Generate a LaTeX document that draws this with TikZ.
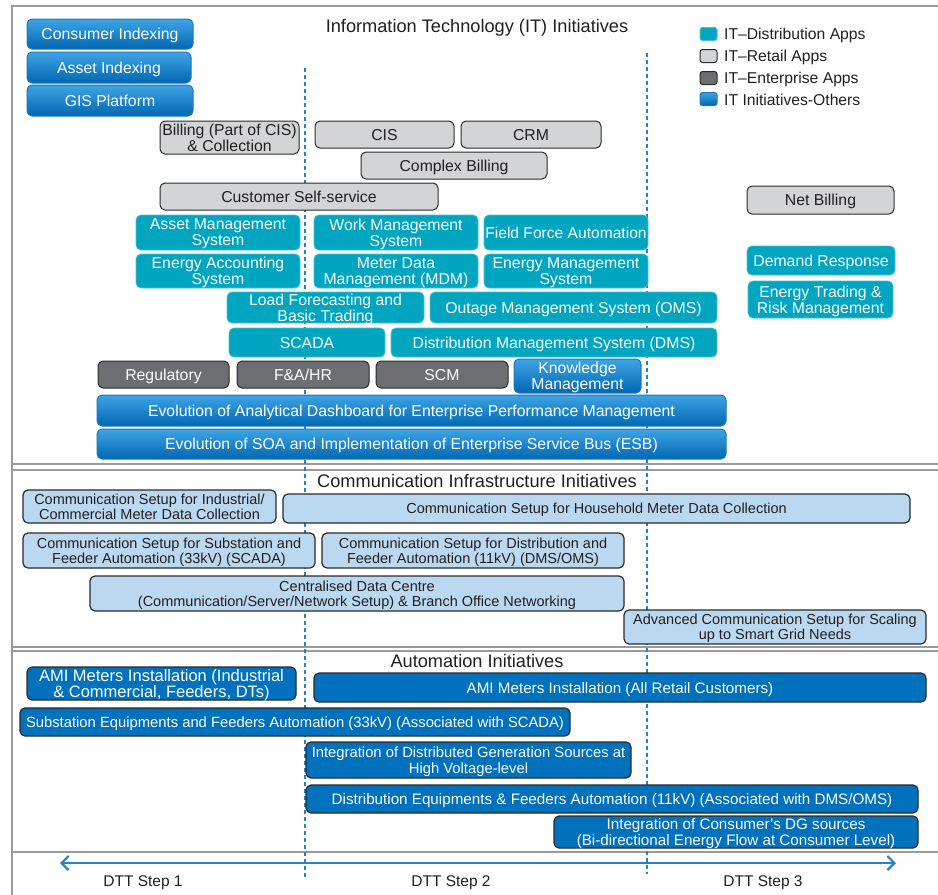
\documentclass[tikz,border=0pt]{standalone}
\usepackage{fontspec}
\setmainfont{Liberation Sans}
\usetikzlibrary{arrows.meta}

\definecolor{tealc}{HTML}{00A6C0}
\definecolor{teallight}{HTML}{45C0D4}
\definecolor{retailgray}{HTML}{D3D4D6}
\definecolor{entgray}{HTML}{6D6E71}
\definecolor{edgedark}{HTML}{2A2A2A}
\definecolor{textdark}{HTML}{231F20}
\definecolor{bluetop}{HTML}{3FA4E4}
\definecolor{bluebot}{HTML}{0068B3}
\definecolor{blueedge}{HTML}{1C78BE}
\definecolor{commblue}{HTML}{BAD8F0}
\definecolor{autoblue}{HTML}{0071BC}
\definecolor{framegray}{HTML}{9A9A9A}
\definecolor{stepblue}{HTML}{2A80C4}

% box from its corners: style, name, x1, y1, x2, y2, text
\newcommand\gbox[7]{%
  \node[#1, minimum width={(#5-#3)*1pt}, minimum height={(#6-#4)*1pt}]
    (#2) at ({(#3+#5)/2},{(#4+#6)/2}) {#7};}

\begin{document}
\begin{tikzpicture}[x=1pt,y=-1pt,
  box/.style={rounded corners=5pt, inner sep=1pt, inner xsep=0pt, align=center, text depth=0pt,
    font=\fontsize{15.8}{16}\selectfont, line width=1pt},
  retail/.style={box, fill=retailgray, draw=edgedark, text=textdark},
  dist/.style={box, fill=tealc, draw=teallight, line width=0.8pt, text=white},
  ent/.style={box, fill=entgray, draw=edgedark, text=white},
  other/.style={box, top color=bluetop, bottom color=bluebot, draw=blueedge, text=white},
  comm/.style={box, fill=commblue, draw=edgedark, line width=1.2pt, text=textdark,
    font=\fontsize{14.5}{15}\selectfont},
  auto/.style={box, fill=autoblue, draw=edgedark, line width=1.2pt, text=white,
    font=\fontsize{15.2}{16}\selectfont},
  title/.style={font=\fontsize{18.2}{20}\selectfont, text=textdark, inner sep=0pt},
  legtext/.style={anchor=west, font=\fontsize{15.7}{16}\selectfont, text=textdark, inner sep=0pt},
  legsq/.style={rounded corners=2.5pt, minimum width=17pt, minimum height=13pt, inner sep=0pt, line width=1pt},
  steplabel/.style={font=\fontsize{15.5}{16}\selectfont, text=textdark, inner sep=0pt},
  frameline/.style={draw=framegray, line width=1.6pt},
  stepdiv/.style={draw=stepblue, line width=1.2pt, dash pattern=on 4pt off 3pt},
  timeline/.style={draw=stepblue, line width=2.2pt,
    {Straight Barb[length=7pt,width=14pt]}-{Straight Barb[length=7pt,width=14pt]}}
]
\useasboundingbox (0,0) rectangle (938,895);

% section frames
\draw[frameline] (938,6) -- (12,6) -- (12,895);
\draw[frameline] (12,464) -- (938,464);
\draw[frameline] (12,470) -- (938,470);
\draw[frameline] (12,647) -- (938,647);
\draw[frameline] (12,651) -- (938,651);
\draw[frameline] (12,852) -- (938,852);

% step dividers
\coordinate (d1t) at (305,68);  \coordinate (d1b) at (305,878);
\coordinate (d2t) at (647,53);  \coordinate (d2b) at (647,874);
\draw[stepdiv] (d1t) -- (d1b);
\draw[stepdiv] (d2t) -- (d2b);

% ---------------- IT initiatives ----------------
\node[title] (ittitle) at (477,28) {Information Technology (IT) Initiatives};

% legend
\node[legsq, fill=tealc, draw=teallight] (lg1) at (708.5,34) {};
\node[legsq, fill=retailgray, draw=edgedark] (lg2) at (708.5,56) {};
\node[legsq, fill=entgray, draw=edgedark] (lg3) at (708.5,78) {};
\node[legsq, top color=bluetop, bottom color=bluebot, draw=blueedge] (lg4) at (708.5,99) {};
\node[legtext] (lt1) at (724,35) {IT–Distribution Apps};
\node[legtext] (lt2) at (724,57) {IT–Retail Apps};
\node[legtext] (lt3) at (724,79) {IT–Enterprise Apps};
\node[legtext] (lt4) at (724,100) {IT Initiatives-Others};

\gbox{other}{ci}{27}{19}{193}{49}{Consumer Indexing}
\gbox{other}{ai}{27}{52}{191}{83}{Asset Indexing}
\gbox{other}{gis}{27}{85}{193}{116}{GIS Platform}

\gbox{retail}{bill}{160}{121}{299}{154}{Billing (Part of CIS)\\\& Collection}
\gbox{retail}{cis}{315}{121}{454}{148}{CIS}
\gbox{retail}{crm}{461}{121}{601}{148}{CRM}
\gbox{retail}{cbill}{361}{152}{547}{179}{Complex Billing}
\gbox{retail}{css}{160}{183}{438}{210}{Customer Self-service}
\gbox{retail}{net}{747}{186}{894}{214}{Net Billing}

\gbox{dist}{ams}{136}{215}{300}{250}{Asset Management\\System}
\gbox{dist}{wms}{314}{215}{478}{250}{Work Management\\System}
\gbox{dist, font=\fontsize{15.6}{16}\selectfont}{ffa}{484}{215}{648}{250}{Field Force Automation}
\gbox{dist}{eas}{136}{254}{300}{288}{Energy Accounting\\System}
\gbox{dist}{mdm}{314}{254}{478}{288}{Meter Data\\Management (MDM)}
\gbox{dist}{ems}{484}{254}{648}{288}{Energy Management\\System}
\gbox{dist}{lf}{227}{292}{424}{323}{Load Forecasting and\\Basic Trading}
\gbox{dist}{oms}{430}{292}{717}{323}{Outage Management System (OMS)}
\gbox{dist}{scada}{229}{328}{385}{357}{SCADA}
\gbox{dist}{dms}{391}{328}{717}{357}{Distribution Management System (DMS)}
\gbox{dist}{dr}{747}{246}{895}{275}{Demand Response}
\gbox{dist}{etrm}{748}{281}{893}{318}{Energy Trading \&\\Risk Management}

\gbox{ent}{reg}{98}{361}{229}{388}{Regulatory}
\gbox{ent}{fa}{237}{361}{369}{388}{F\&A/HR}
\gbox{ent}{scm}{376}{361}{508}{388}{SCM}
\gbox{other}{km}{514}{359}{641}{393}{Knowledge\\Management}

\gbox{other}{dash}{97}{395}{726}{426}{Evolution of Analytical Dashboard for Enterprise Performance Management}
\gbox{other}{soa}{97}{429}{726}{459}{Evolution of SOA and Implementation of Enterprise Service Bus (ESB)}

% ---------------- Communication infrastructure ----------------
\node[title] (comtitle) at (477,481) {Communication Infrastructure Initiatives};

\gbox{comm}{cind}{23}{490}{276}{523}{Communication Setup for Industrial/\\Commercial Meter Data Collection}
\gbox{comm}{chh}{283}{494}{910}{523}{Communication Setup for Household Meter Data Collection}
\gbox{comm}{csub}{23}{533}{315}{568}{Communication Setup for Substation and\\Feeder Automation (33kV) (SCADA)}
\gbox{comm}{cdist}{322}{533}{624}{568}{Communication Setup for Distribution and\\Feeder Automation (11kV) (DMS/OMS)}
\gbox{comm}{cdc}{90}{576}{624}{611}{Centralised Data Centre\\(Communication/Server/Network Setup) \& Branch Office Networking}
\gbox{comm}{cadv}{624}{610}{926}{644}{Advanced Communication Setup for Scaling\\up to Smart Grid Needs}

% ---------------- Automation ----------------
\node[title] (auttitle) at (477,661) {Automation Initiatives};

\gbox{auto, font=\fontsize{16.5}{16}\selectfont}{amiic}{27}{667}{296}{700}{AMI Meters Installation (Industrial\\\& Commercial, Feeders, DTs)}
\gbox{auto}{amirc}{314}{673}{926}{702}{AMI Meters Installation (All Retail Customers)}
\gbox{auto, font=\fontsize{14.8}{16}\selectfont}{subauto}{20}{708}{570}{736}{Substation Equipments and Feeders Automation (33kV) (Associated with SCADA)}
\gbox{auto, font=\fontsize{14.8}{16}\selectfont}{dghv}{306}{742}{631}{778}{Integration of Distributed Generation Sources at\\High Voltage-level}
\gbox{auto}{distauto}{306}{785}{918}{813}{Distribution Equipments \& Feeders Automation (11kV) (Associated with DMS/OMS)}
\gbox{auto}{dgcons}{554}{816}{918}{848}{Integration of Consumer's DG sources\\(Bi-directional Energy Flow at Consumer Level)}

% ---------------- DTT steps ----------------
\coordinate (tl) at (60,863);
\coordinate (tr) at (896,863);
\draw[timeline] (tl) -- (tr);
\node[steplabel] (s1) at (143,883) {DTT Step 1};
\node[steplabel] (s2) at (451,883) {DTT Step 2};
\node[steplabel] (s3) at (763,883) {DTT Step 3};

\end{tikzpicture}
\end{document}
